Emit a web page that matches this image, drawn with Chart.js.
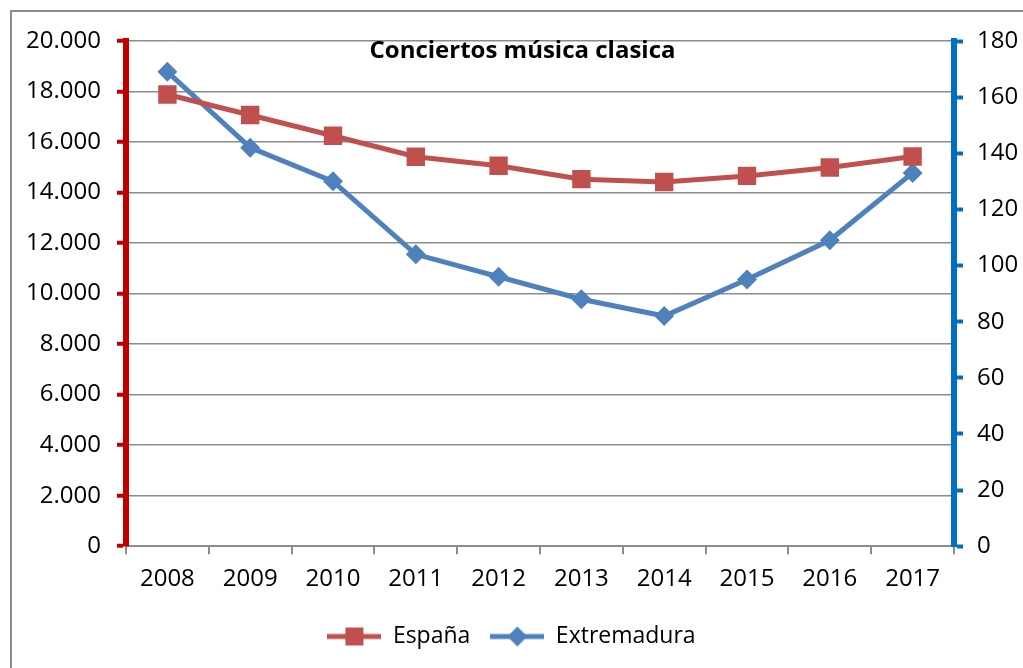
<!DOCTYPE html>
<html>
<head>
<meta charset="utf-8">
<script src="https://cdn.jsdelivr.net/npm/chart.js@4.4.1/dist/chart.umd.min.js"></script>
<style>
  html, body { margin: 0; padding: 0; background: #fff; overflow: hidden; }
  #frame { position: absolute; left: 10px; top: 10px; width: 1100px; height: 700px;
           border-left: 2px solid #8c8c8c; border-top: 2px solid #8c8c8c; }
  #wrap { position: absolute; left: 0; top: 0; width: 1023px; height: 668px; }
</style>
</head>
<body>
<div id="frame"></div>
<div id="wrap"><canvas id="chart"></canvas></div>
<script>
'use strict';

// datos
var chartTitle = 'Conciertos música clasica';
var years = ['2008', '2009', '2010', '2011', '2012', '2013', '2014', '2015', '2016', '2017'];
var espana = [17880, 17070, 16250, 15420, 15060, 14530, 14420, 14660, 14990, 15430];
var extremadura = [169, 142, 130, 104, 96, 88, 82, 95, 109, 133];
var seriesNames = ['España', 'Extremadura'];

var RED_SERIES = '#c0504d';
var BLUE_SERIES = '#4f81bd';
var RED_AXIS = '#c00000';
var BLUE_AXIS = '#0070c0';
var GRID = '#8c8c8c';

Chart.defaults.font.family = "'Open Sans', 'Liberation Sans', sans-serif";
Chart.defaults.color = '#000';

// miles con punto, como en el original
function puntoMiles(v) {
    return String(v).replace(/\B(?=(\d{3})+(?!\d))/g, '.');
}

// icono de leyenda: linea + marcador
function legendIcon(color, shape) {
    var c = document.createElement('canvas');
    c.width = 54;
    c.height = 22;
    var g = c.getContext('2d');
    g.strokeStyle = color;
    g.fillStyle = color;
    g.lineWidth = 5;
    g.beginPath();
    g.moveTo(0, 11);
    g.lineTo(54, 11);
    g.stroke();
    if (shape === 'rect') {
        g.fillRect(27 - 9, 11 - 9, 18, 18);
    } else {
        g.beginPath();
        g.moveTo(27, 1);
        g.lineTo(37, 11);
        g.lineTo(27, 21);
        g.lineTo(17, 11);
        g.closePath();
        g.fill();
    }
    return c;
}
var icons = [legendIcon(RED_SERIES, 'rect'), legendIcon(BLUE_SERIES, 'diamond')];

var overlayTitle = {
    id: 'overlayTitle',
    afterDraw: function(chart) {
        var ctx = chart.ctx;
        ctx.save();
        ctx.font = "bold 24px 'Open Sans', 'Liberation Sans', sans-serif";
        ctx.fillStyle = '#000';
        ctx.textAlign = 'center';
        ctx.textBaseline = 'middle';
        ctx.fillText(chartTitle, chart.width / 2 + 11, chart.chartArea.top + 10);
        ctx.restore();
    }
};

var ctx = document.getElementById('chart').getContext('2d');
window.myChart = new Chart(ctx, {
    type: 'line',
    data: {
        labels: years,
        datasets: [{
            label: seriesNames[0],
            data: espana,
            yAxisID: 'y',
            borderColor: RED_SERIES,
            backgroundColor: RED_SERIES,
            borderWidth: 5,
            pointStyle: 'rect',
            pointRadius: 13,
            pointHoverRadius: 13,
            pointBorderWidth: 0,
            tension: 0
        }, {
            label: seriesNames[1],
            data: extremadura,
            yAxisID: 'y1',
            borderColor: BLUE_SERIES,
            backgroundColor: BLUE_SERIES,
            borderWidth: 5,
            pointStyle: 'rectRot',
            pointRadius: 10,
            pointHoverRadius: 10,
            pointBorderWidth: 0,
            tension: 0
        }]
    },
    options: {
        responsive: true,
        maintainAspectRatio: false,
        animation: false,
        layout: {
            padding: { left: 0, right: 0, top: 41, bottom: 10 }
        },
        scales: {
            x: {
                offset: true,
                grid: {
                    display: true,
                    drawOnChartArea: false,
                    offset: true,
                    color: GRID,
                    lineWidth: 2,
                    tickLength: 8
                },
                border: { color: GRID, width: 2 },
                ticks: { font: { size: 24 }, padding: 11, maxRotation: 0 }
            },
            y: {
                position: 'left',
                min: 0,
                max: 20000,
                afterFit: function(scale) { scale.width = 126; },
                grid: {
                    color: GRID,
                    lineWidth: 1.5,
                    tickColor: RED_AXIS,
                    tickWidth: 4,
                    tickLength: 9
                },
                border: { color: RED_AXIS, width: 6 },
                ticks: {
                    stepSize: 2000,
                    font: { size: 24 },
                    padding: 16,
                    callback: function(v) { return puntoMiles(v); }
                }
            },
            y1: {
                position: 'right',
                min: 0,
                max: 180,
                afterFit: function(scale) { scale.width = 69; },
                grid: {
                    drawOnChartArea: false,
                    tickColor: BLUE_AXIS,
                    tickWidth: 4,
                    tickLength: 9
                },
                border: { color: BLUE_AXIS, width: 6 },
                ticks: { stepSize: 20, font: { size: 24 }, padding: 14 }
            }
        },
        plugins: {
            title: { display: false },
            tooltip: { enabled: false },
            legend: {
                position: 'bottom',
                labels: {
                    usePointStyle: true,
                    pointStyleWidth: 54,
                    boxHeight: 22,
                    padding: 20,
                    font: { size: 23 },
                    generateLabels: function(chart) {
                        var items = Chart.defaults.plugins.legend.labels.generateLabels(chart);
                        items.forEach(function(it, i) { it.pointStyle = icons[i]; });
                        return items;
                    }
                }
            }
        }
    },
    plugins: [overlayTitle]
});
</script>
</body>
</html>
